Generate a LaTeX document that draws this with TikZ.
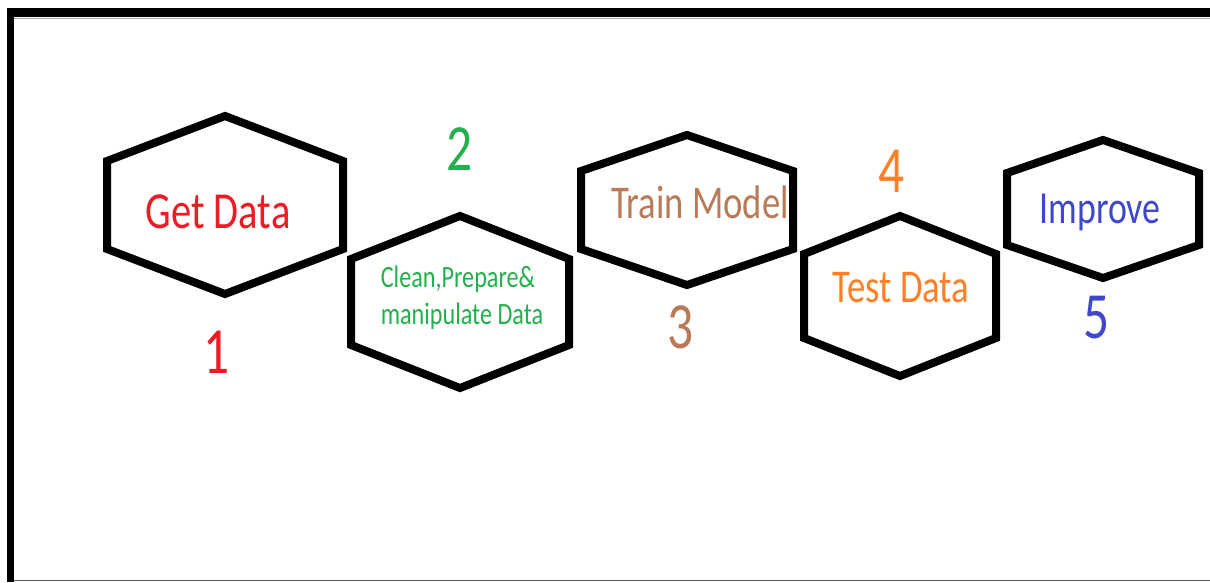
\documentclass[tikz,border=0pt]{standalone}
\usepackage{fontspec}
\setmainfont[FakeStretch=0.78]{Carlito}
\definecolor{pred}{HTML}{ED1C24}
\definecolor{pgreen}{HTML}{22B14C}
\definecolor{pbrown}{HTML}{B97A57}
\definecolor{porange}{HTML}{FF7F27}
\definecolor{pblue}{HTML}{3F48CC}
% flattened hexagon: centre (#1,#2), half width #3, half side #4, apex offset #5
\newcommand{\flathex}[5]{%
  \draw[hexline] (#1-#3,#2-#4) -- (#1,#2-#5) -- (#1+#3,#2-#4)
    -- (#1+#3,#2+#4) -- (#1,#2+#5) -- (#1-#3,#2+#4) -- cycle;}
\begin{document}
\begin{tikzpicture}[x=1pt,y=-1pt,
  hexline/.style={line width=8pt,draw=black,line join=miter},
  label/.style={anchor=base,inner sep=0pt,font=\fontsize{#1}{#1}\selectfont},
  label/.default=47,
  stepno/.style={anchor=base,inner sep=0pt,font=\fontsize{66}{66}\selectfont}]
\useasboundingbox (0,0) rectangle (1210,582);
\fill[white] (0,0) rectangle (1210,582);
% window frame
\fill[black] (7,8) rectangle (1210,17);
\fill[black] (7,8) rectangle (14,582);
\draw[gray!70,line width=1pt] (14,18) -- (1210,18);
\draw[black!65,line width=1.6pt] (14,580.5) -- (1210,580.5);
% hexagons
\flathex{225}{205}{118}{44}{89}
\flathex{460}{302}{109}{43}{86}
\flathex{687}{210}{106}{39}{75}
\flathex{900}{296}{96}{42}{80}
\flathex{1103}{209}{96}{36}{69}
% step titles
\node[label=52,text=pred] (getdata) at (218,228) {Get Data};
\node[label=31,text=pgreen] (clean) at (458,287) {Clean,Prepare\&};
\node[label=31,text=pgreen] (manip) at (462,324) {manipulate Data};
\node[label=47,text=pbrown] (train) at (700,218) {Train Model};
\node[label=47,text=porange] (test) at (901,302) {Test Data};
\node[label=46,text=pblue] (improve) at (1100,223) {Improve};
% step numbers
\node[stepno,text=pred] (n1) at (217,373) {1};
\node[stepno,text=pgreen] (n2) at (460,170) {2};
\node[stepno,text=pbrown] (n3) at (681,348) {3};
\node[stepno,text=porange] (n4) at (892,192) {4};
\node[stepno,text=pblue] (n5) at (1097,338) {5};
\end{tikzpicture}
\end{document}
